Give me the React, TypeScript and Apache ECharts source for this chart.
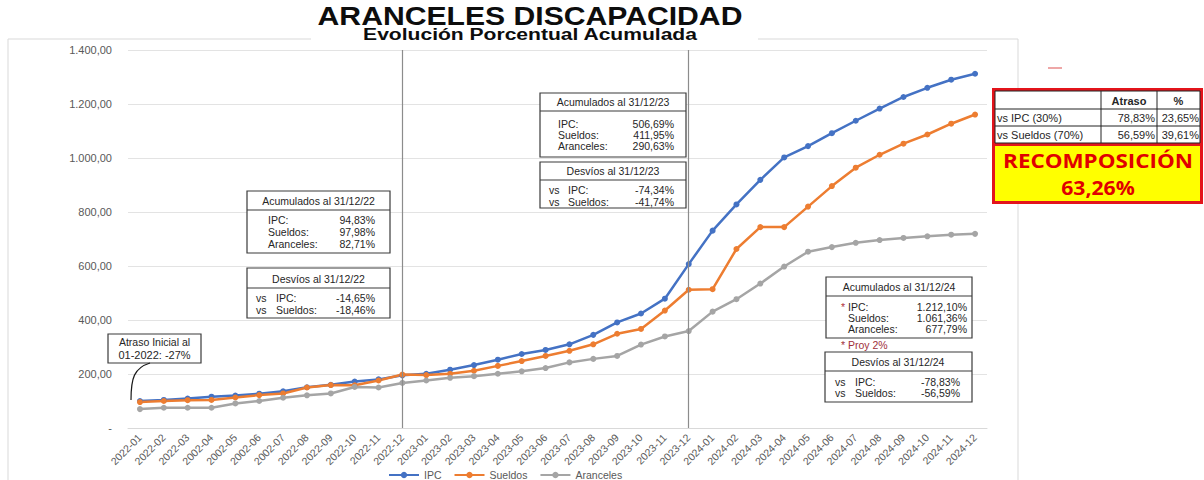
import React, { useEffect, useRef } from "react";
import * as echarts from "echarts";

const months = [
  "2022-01", "2022-02", "2022-03", "2002-04", "2002-05", "2002-06", "2002-07", "2022-08", "2022-09", "2022-10", "2022-11", "2022-12",
  "2023-01", "2023-02", "2023-03", "2023-04", "2023-05", "2023-06", "2023-07", "2023-08", "2023-09", "2023-10", "2023-11", "2023-12",
  "2024-01", "2024-02", "2024-03", "2024-04", "2024-05", "2024-06", "2024-07", "2024-08", "2024-09", "2024-10", "2024-11", "2024-12",
];

const ipc = [
  100, 104, 109, 116, 120, 127, 136, 151, 160, 172, 180, 195,
  201, 216, 233, 253, 274, 289, 310, 345, 391, 424, 479, 607,
  731, 828, 919, 1002, 1044, 1092, 1138, 1183, 1226, 1260, 1290, 1312,
];
const sueldos = [
  96, 100, 103, 104, 113, 122, 128, 150, 159, 158, 176, 198,
  196, 201, 212, 230, 248, 267, 286, 310, 349, 367, 435, 512,
  514, 663, 744, 744, 820, 896, 964, 1012, 1053, 1087, 1127, 1161,
];
const aranceles = [
  70, 75, 75, 75, 91, 100, 112, 121, 128, 152, 150, 167,
  176, 186, 192, 201, 210, 222, 243, 256, 267, 309, 339, 359,
  431, 477, 535, 598, 653, 670, 686, 696, 704, 710, 716, 719,
];
const dividerMonths = ["2022-12", "2023-12"];

const FONT = "Liberation Sans, Arial, sans-serif";
const TXT = "#262626";

function fmt(v: number): string {
  if (v === 0) return "-";
  const [i, d] = v.toFixed(2).split(".");
  return i.replace(/\B(?=(\d{3})+(?!\d))/g, ".") + "," + d;
}

function t(x: number, y: number, text: string, opts: any = {}) {
  return {
    type: "text",
    x,
    y,
    z: 100,
    scaleX: opts.scaleX || 1,
    style: {
      text,
      fontFamily: opts.family || FONT,
      fontSize: opts.size || 10.5,
      fontWeight: opts.weight || "normal",
      fill: opts.fill || TXT,
      align: opts.align || "left",
      verticalAlign: "middle",
      lineHeight: opts.lineHeight,
    },
  };
}

function box(x: number, y: number, w: number, h: number, divY?: number) {
  const els: any[] = [
    {
      type: "rect",
      z: 90,
      shape: { x, y, width: w, height: h },
      style: { fill: "#fff", stroke: "#3a3a3a", lineWidth: 1.2 },
    },
  ];
  if (divY !== undefined) {
    els.push({
      type: "line",
      z: 91,
      shape: { x1: x, y1: divY, x2: x + w, y2: divY },
      style: { stroke: "#3a3a3a", lineWidth: 1.2 },
    });
  }
  return els;
}

export default function App() {
  const ref = useRef<HTMLDivElement>(null);
  useEffect(() => {
    document.body.style.margin = "0";
    const chart = echarts.init(ref.current!, null, { renderer: "svg" });
    const graphic: any[] = [
      // outer border
      {
        type: "rect",
        z: 1,
        shape: { x: 8, y: 39, width: 1010, height: 460 },
        style: { fill: "none", stroke: "#d9d9d9", lineWidth: 1 },
      },
      {
        type: "rect",
        z: 2,
        shape: { x: 311, y: 32, width: 447, height: 14 },
        style: { fill: "#fff" },
      },
      t(530, 16, "ARANCELES DISCAPACIDAD", { size: 26, weight: "bold", align: "center", fill: "#0d0d0d", scaleX: 1.16, lineHeight: 25 }),
      t(530, 34.5, "Evolución Porcentual Acumulada", { size: 17, weight: "bold", align: "center", fill: "#0d0d0d", scaleX: 1.24, lineHeight: 16 }),

      // box 31/12/22
      ...box(247, 191, 143, 62, 210),
      t(318.5, 200.5, "Acumulados al 31/12/22", { align: "center" }),
      t(268, 220, "IPC:"),
      t(268, 232, "Sueldos:"),
      t(268, 244, "Aranceles:"),
      t(375, 220, "94,83%", { align: "right" }),
      t(375, 232, "97,98%", { align: "right" }),
      t(375, 244, "82,71%", { align: "right" }),
      ...box(247, 268, 143, 50, 288),
      t(318.5, 279, "Desvíos al 31/12/22", { align: "center" }),
      t(256, 298, "vs"),
      t(276, 298, "IPC:"),
      t(375, 298, "-14,65%", { align: "right" }),
      t(256, 310, "vs"),
      t(276, 310, "Sueldos:"),
      t(375, 310, "-18,46%", { align: "right" }),

      // atraso inicial
      ...box(108, 334, 93, 29),
      t(154.5, 341.5, "Atraso Inicial al", { align: "center" }),
      t(154.5, 355, "01-2022: -27%", { align: "center", size: 11 }),
      {
        type: "bezierCurve",
        z: 95,
        shape: { x1: 150, y1: 363, cpx1: 134, cpy1: 368, cpx2: 131, cpy2: 378, x2: 131, y2: 400 },
        style: { stroke: "#1a1a1a", lineWidth: 1.2, fill: "none" },
      },

      // box 31/12/23
      ...box(540, 93, 146, 64, 111),
      t(613, 102, "Acumulados al 31/12/23", { align: "center" }),
      t(558, 124, "IPC:"),
      t(558, 135, "Sueldos:"),
      t(558, 146, "Aranceles:"),
      t(674, 124, "506,69%", { align: "right" }),
      t(674, 135, "411,95%", { align: "right" }),
      t(674, 146, "290,63%", { align: "right" }),
      ...box(540, 162, 146, 46, 180),
      t(613, 171, "Desvíos al 31/12/23", { align: "center" }),
      t(549, 190, "vs"),
      t(568, 190, "IPC:"),
      t(674, 190, "-74,34%", { align: "right" }),
      t(549, 202, "vs"),
      t(568, 202, "Sueldos:"),
      t(674, 202, "-41,74%", { align: "right" }),

      // box 31/12/24
      ...box(826, 277, 146, 61, 296),
      t(899, 287, "Acumulados al 31/12/24", { align: "center" }),
      t(841, 307, "*", { fill: "#b0303a" }),
      t(848, 307, "IPC:"),
      t(848, 318, "Sueldos:"),
      t(848, 329, "Aranceles:"),
      t(967, 307, "1.212,10%", { align: "right" }),
      t(967, 318, "1.061,36%", { align: "right" }),
      t(967, 329, "677,79%", { align: "right" }),
      t(841, 345, "* Proy 2%", { fill: "#a0303a" }),
      ...box(825, 352, 147, 50, 371),
      t(898, 362, "Desvíos al 31/12/24", { align: "center" }),
      t(835, 382, "vs"),
      t(855, 382, "IPC:"),
      t(960, 382, "-78,83%", { align: "right" }),
      t(835, 393, "vs"),
      t(855, 393, "Sueldos:"),
      t(960, 393, "-56,59%", { align: "right" }),

      // right table
      {
        type: "rect",
        z: 80,
        shape: { x: 992, y: 88, width: 211, height: 116 },
        style: { fill: "#e3141b" },
      },
      {
        type: "rect",
        z: 81,
        shape: { x: 995, y: 91, width: 205, height: 52 },
        style: { fill: "#fff", stroke: "#222", lineWidth: 1 },
      },
      {
        type: "rect",
        z: 81,
        shape: { x: 995, y: 146, width: 205, height: 55 },
        style: { fill: "#ffff00" },
      },
      { type: "line", z: 82, shape: { x1: 995, y1: 109, x2: 1200, y2: 109 }, style: { stroke: "#222", lineWidth: 1 } },
      { type: "line", z: 82, shape: { x1: 995, y1: 126, x2: 1200, y2: 126 }, style: { stroke: "#222", lineWidth: 1 } },
      { type: "line", z: 82, shape: { x1: 1101, y1: 91, x2: 1101, y2: 143 }, style: { stroke: "#222", lineWidth: 1 } },
      { type: "line", z: 82, shape: { x1: 1157, y1: 91, x2: 1157, y2: 143 }, style: { stroke: "#222", lineWidth: 1 } },
      t(1129, 100.5, "Atraso", { align: "center", weight: "bold", size: 11 }),
      t(1178.5, 100.5, "%", { align: "center", weight: "bold", size: 11 }),
      t(997, 117.5, "vs IPC (30%)", { size: 11 }),
      t(1155, 117.5, "78,83%", { align: "right", size: 11 }),
      t(1199, 117.5, "23,65%", { align: "right", size: 11 }),
      t(997, 134.5, "vs Sueldos (70%)", { size: 11 }),
      t(1155, 134.5, "56,59%", { align: "right", size: 11 }),
      t(1199, 134.5, "39,61%", { align: "right", size: 11 }),
      t(1098, 160, "RECOMPOSICIÓN", { family: "Open Sans, sans-serif", weight: "bold", size: 20, fill: "#e00000", align: "center", scaleX: 1.12 }),
      t(1098, 187, "63,26%", { family: "Open Sans, sans-serif", weight: "bold", size: 20, fill: "#e00000", align: "center", scaleX: 1.06 }),
      { type: "line", z: 5, shape: { x1: 1048, y1: 68, x2: 1062, y2: 68 }, style: { stroke: "#e88a8a", lineWidth: 1.5 } },
    ];

    const lineSeries = (name: string, data: number[], color: string) => ({
      name,
      type: "line",
      data,
      symbol: "circle",
      symbolSize: 6,
      itemStyle: { color },
      lineStyle: { color, width: 2.5 },
      z: 3,
    });

    chart.setOption({
      animation: false,
      backgroundColor: "#fff",
      grid: { left: 128, right: 217, top: 50, bottom: 52 },
      legend: {
        left: 383,
        top: 464,
        itemWidth: 30,
        itemHeight: 8,
        itemGap: 12,
        textStyle: { fontFamily: FONT, fontSize: 10.5, color: "#595959", lineHeight: 12 },
        data: ["IPC", "Sueldos", "Aranceles"],
      },
      xAxis: {
        type: "category",
        data: months,
        boundaryGap: true,
        axisLine: { lineStyle: { color: "#d9d9d9" } },
        axisTick: { show: false },
        axisLabel: {
          rotate: 45,
          interval: 0,
          fontFamily: FONT,
          fontSize: 10.5,
          color: "#595959",
          margin: 8,
        },
      },
      yAxis: {
        type: "value",
        min: 0,
        max: 1400,
        interval: 200,
        axisLine: { show: false },
        axisTick: { show: false },
        splitLine: { lineStyle: { color: "#e3e3e3", width: 1 } },
        axisLabel: {
          formatter: (v: number) => fmt(v),
          fontFamily: FONT,
          fontSize: 11,
          color: "#595959",
          margin: 16,
        },
      },
      series: [
        {
          ...lineSeries("IPC", ipc, "#4472C4"),
          markLine: {
            silent: true,
            symbol: "none",
            label: { show: false },
            lineStyle: { color: "#8c8c8c", width: 1.2, type: "solid" },
            data: dividerMonths.map((m) => ({ xAxis: m })),
          },
        },
        lineSeries("Sueldos", sueldos, "#ED7D31"),
        lineSeries("Aranceles", aranceles, "#A5A5A5"),
      ],
      graphic,
    });
    return () => chart.dispose();
  }, []);
  return <div ref={ref} style={{ position: "absolute", left: 0, top: 0, width: 1204, height: 480 }} />;
}
